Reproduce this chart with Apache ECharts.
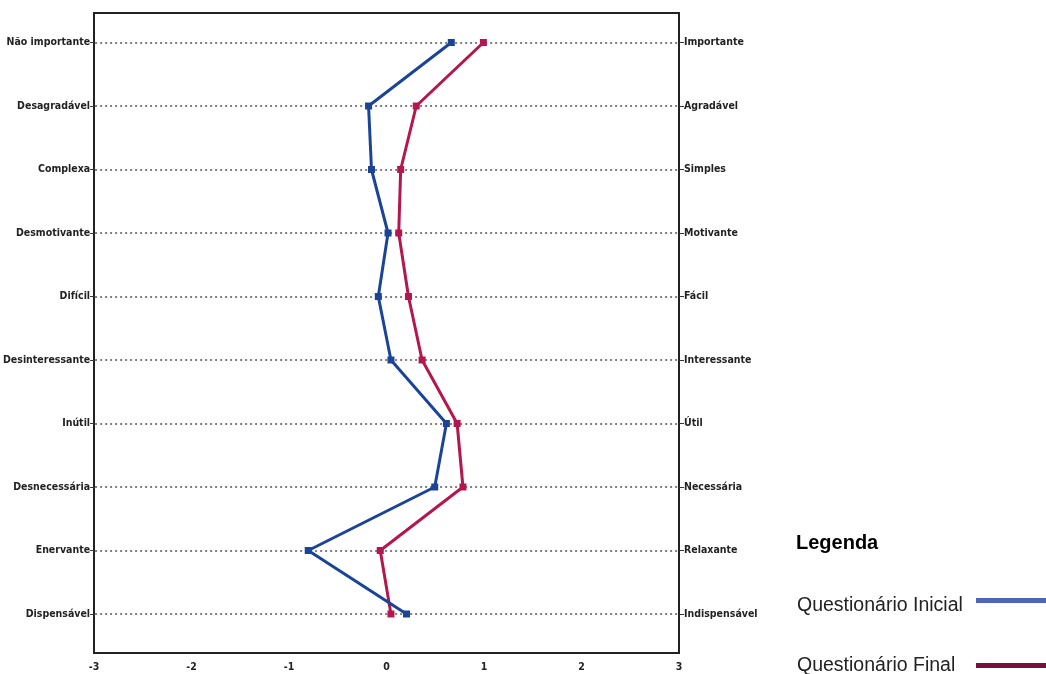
<!DOCTYPE html>
<html><head><meta charset="utf-8">
<script src="https://cdn.jsdelivr.net/npm/echarts@6/dist/echarts.min.js"></script>
<style>html,body{margin:0;padding:0;background:#fff}#c{width:1046px;height:674px}</style>
</head><body><div id="c"></div>
<script>
const leftLabels = ['Não importante','Desagradável','Complexa','Desmotivante','Difícil','Desinteressante','Inútil','Desnecessária','Enervante','Dispensável'];
const rightLabels = ['Importante','Agradável','Simples','Motivante','Fácil','Interessante','Útil','Necessária','Relaxante','Indispensável'];
const inicial = [0.66,-0.19,-0.16,0.01,-0.09,0.04,0.61,0.49,-0.81,0.20];
const final = [0.99,0.30,0.14,0.12,0.22,0.36,0.72,0.78,-0.07,0.04];
const xTicks = [-3,3];
const seriesNames = ['Questionário Inicial','Questionário Final'];
const legendTitle = 'Legenda';

const chart = echarts.init(document.getElementById('c'));
const axFont = {fontFamily:"'DejaVu Sans Condensed', 'Liberation Sans', sans-serif", fontWeight:'bold', fontSize:10.5, color:'#222'};
const legFont = "19.5px 'Liberation Sans', sans-serif";
chart.setOption({
  animation:false,
  graphic:[
    {type:'text', left:796, top:533, style:{text:legendTitle, font:"bold 20px 'Liberation Sans', sans-serif", fill:'#000'}},
    {type:'text', left:797, top:596, style:{text:seriesNames[0], font:legFont, fill:'#222'}},
    {type:'rect', left:976, top:598, shape:{width:70, height:5}, style:{fill:'#4a69b3'}},
    {type:'text', left:797, top:656, style:{text:seriesNames[1], font:legFont, fill:'#222'}},
    {type:'rect', left:976, top:663, shape:{width:70, height:5}, style:{fill:'#7a0f3e'}}
  ],
  grid:[
    {left:94, width:585, top:13, height:640, show:true, borderColor:'#222', borderWidth:2, backgroundColor:'transparent'},
    {left:94, width:585, top:42.5, height:571.5}
  ],
  xAxis:[
    {type:'value', gridIndex:0, min:xTicks[0], max:xTicks[1], interval:1, axisLine:{show:false}, axisTick:{show:false}, splitLine:{show:false}, axisLabel:Object.assign({margin:9}, axFont)},
    {type:'value', gridIndex:1, min:xTicks[0], max:xTicks[1], show:false}
  ],
  yAxis:[
    {type:'value', gridIndex:0, show:false},
    {type:'category', gridIndex:1, data:leftLabels, inverse:true, boundaryGap:false, position:'left',
     axisLine:{show:false, onZero:false}, axisTick:{show:true, length:5, lineStyle:{color:'#333'}},
     axisLabel:Object.assign({margin:5}, axFont),
     splitLine:{show:true, lineStyle:{type:[2,3], color:'#555', width:1.5}}},
    {type:'category', gridIndex:1, data:rightLabels, inverse:true, boundaryGap:false, position:'right',
     axisLine:{show:false, onZero:false}, axisTick:{show:true, length:5, lineStyle:{color:'#333'}},
     axisLabel:Object.assign({margin:5}, axFont),
     splitLine:{show:false}}
  ],
  series:[
    {name:seriesNames[0], type:'line', xAxisIndex:1, yAxisIndex:1, data:inicial, symbol:'rect', symbolSize:7,
     lineStyle:{color:'#1b4496', width:3}, itemStyle:{color:'#1b4496'}, z:3},
    {name:seriesNames[1], type:'line', xAxisIndex:1, yAxisIndex:1, data:final, symbol:'rect', symbolSize:7,
     lineStyle:{color:'#b3174f', width:3}, itemStyle:{color:'#b3174f'}, z:2}
  ]
});
</script></body></html>
